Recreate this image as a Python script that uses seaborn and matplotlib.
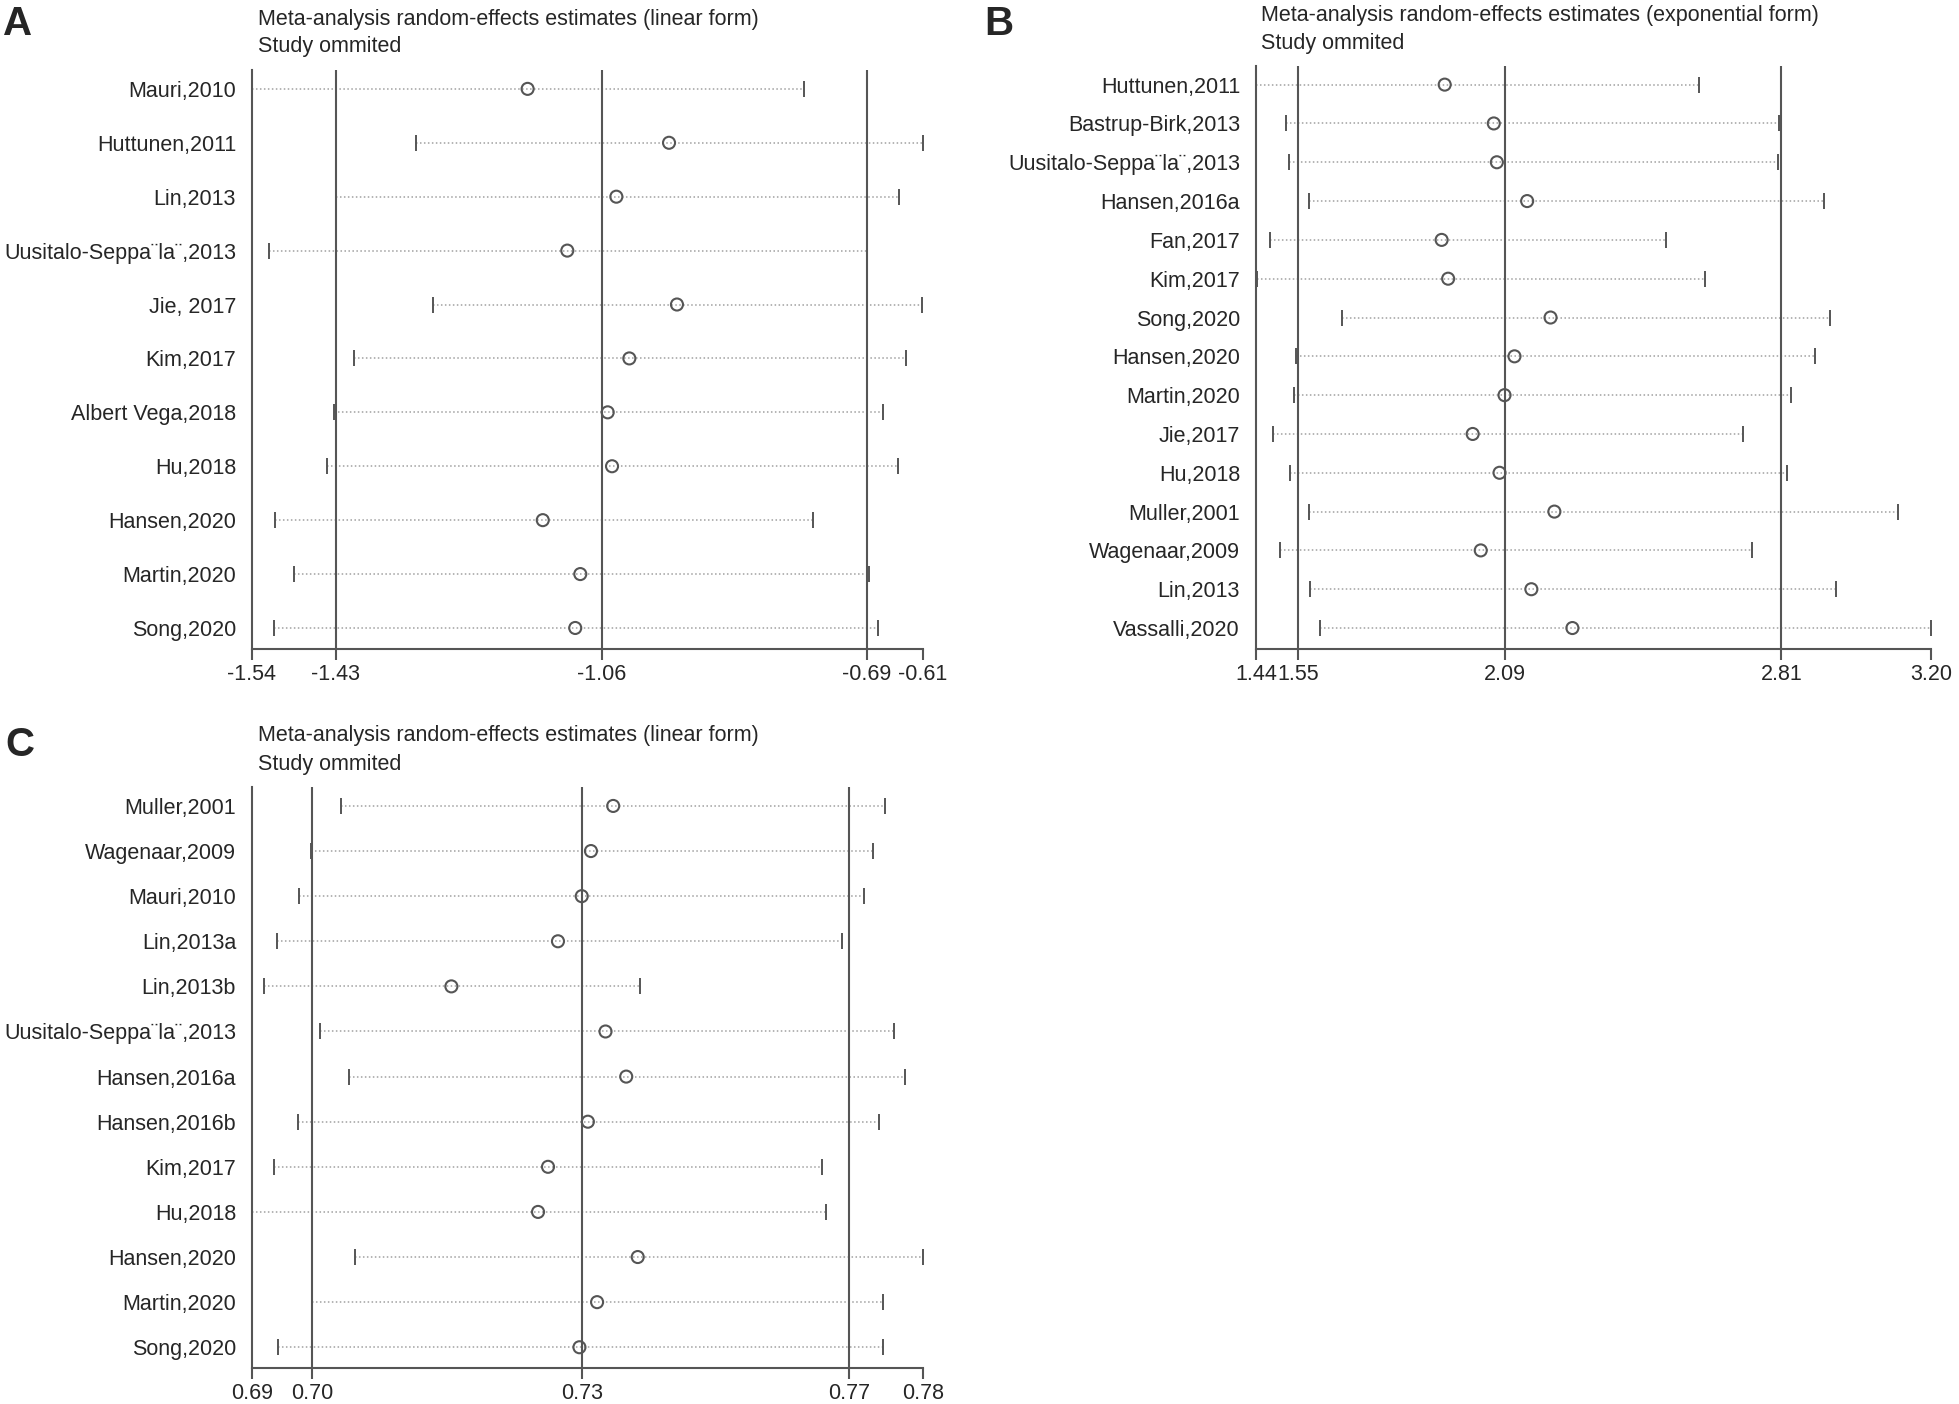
import pandas as pd
import matplotlib.pyplot as plt
import seaborn as sns

# Panel A - linear form
a_studies = ['Mauri,2010', 'Huttunen,2011', 'Lin,2013', 'Uusitalo-Seppa¨la¨,2013', 'Jie, 2017',
             'Kim,2017', 'Albert Vega,2018', 'Hu,2018', 'Hansen,2020', 'Martin,2020', 'Song,2020']
a_est = [-1.158, -0.962, -1.035, -1.103, -0.951, -1.017, -1.047, -1.041, -1.137, -1.085, -1.092]
a_low = [-1.54, -1.313, -1.423, -1.517, -1.289, -1.398, -1.427, -1.436, -1.508, -1.482, -1.509]
a_high = [-0.775, -0.61, -0.643, -0.688, -0.612, -0.634, -0.665, -0.645, -0.763, -0.685, -0.673]
a_lines = [-1.424, -1.055, -0.688]
a_ticks = [-1.54, -1.424, -1.055, -0.688, -0.61]
a_labels = ['-1.54', '-1.43', '-1.06', '-0.69', '-0.61']

# Panel B - exponential form
b_studies = ['Huttunen,2011', 'Bastrup-Birk,2013', 'Uusitalo-Seppa¨la¨,2013', 'Hansen,2016a', 'Fan,2017',
             'Kim,2017', 'Song,2020', 'Hansen,2020', 'Martin,2020', 'Jie,2017', 'Hu,2018',
             'Muller,2001', 'Wagenaar,2009', 'Lin,2013', 'Vassalli,2020']
b_est = [1.932, 2.060, 2.068, 2.147, 1.924, 1.941, 2.208, 2.114, 2.088, 2.005, 2.075, 2.218, 2.026, 2.158, 2.265]
b_low = [1.44, 1.518, 1.525, 1.577, 1.477, 1.443, 1.665, 1.544, 1.539, 1.484, 1.528, 1.578, 1.503, 1.582, 1.606]
b_high = [2.596, 2.803, 2.800, 2.920, 2.510, 2.611, 2.936, 2.897, 2.834, 2.710, 2.825, 3.115, 2.734, 2.951, 3.20]
b_lines = [1.55, 2.09, 2.81]
b_ticks = [1.44, 1.55, 2.09, 2.81, 3.20]
b_labels = ['1.44', '1.55', '2.09', '2.81', '3.20']

# Panel C - linear form
c_studies = ['Muller,2001', 'Wagenaar,2009', 'Mauri,2010', 'Lin,2013a', 'Lin,2013b', 'Uusitalo-Seppa¨la¨,2013',
             'Hansen,2016a', 'Hansen,2016b', 'Kim,2017', 'Hu,2018', 'Hansen,2020', 'Martin,2020', 'Song,2020']
c_est = [0.7391, 0.7362, 0.7350, 0.7319, 0.7180, 0.7381, 0.7408, 0.7358, 0.7306, 0.7293, 0.7423, 0.7370, 0.7347]
c_low = [0.7036, 0.6997, 0.6981, 0.6953, 0.6935, 0.7009, 0.7047, 0.6980, 0.6949, 0.692, 0.7054, 0.6998, 0.6954]
c_high = [0.7746, 0.7730, 0.7718, 0.7689, 0.7426, 0.7757, 0.7771, 0.7738, 0.7663, 0.7668, 0.7795, 0.7743, 0.7743]
c_lines = [0.6998, 0.7350, 0.7699]
c_ticks = [0.692, 0.6998, 0.7350, 0.7699, 0.7795]
c_labels = ['0.69', '0.70', '0.73', '0.77', '0.78']

sns.set_style('white')
plt.rcParams['font.family'] = ['Liberation Sans', 'DejaVu Sans']

W, H = 1959, 1404
fig = plt.figure(figsize=(W / 100, H / 100), dpi=100)
line_col = '#555555'


def draw_panel(rect, studies, est, low, high, lines, ticks, labels, pad_top, pad_bot):
    ax = fig.add_axes(rect)
    n = len(studies)
    df = pd.DataFrame({'study': studies, 'est': est, 'low': low, 'high': high, 'row': range(n)})
    ax.hlines(df['row'], df['low'], df['high'], colors='#a0a0a0', linestyles=(0, (1, 1.6)), lw=1.1, zorder=1)
    ax.plot(df['low'], df['row'], ls='none', marker='|', ms=12, mew=1.4, color=line_col, zorder=2)
    ax.plot(df['high'], df['row'], ls='none', marker='|', ms=12, mew=1.4, color=line_col, zorder=2)
    for v in lines:
        ax.axvline(v, color=line_col, lw=1.5, zorder=3)
    sns.scatterplot(data=df, x='est', y='row', ax=ax, s=75, facecolors='none',
                    edgecolor=line_col, linewidth=1.5, zorder=4, legend=False)
    ax.set_xlim(ticks[0], ticks[-1])
    ax.set_ylim(n - 1 + pad_bot, -pad_top)
    ax.set_yticks(range(n))
    ax.set_yticklabels(studies, fontsize=15.5)
    ax.set_xticks(ticks)
    ax.set_xticklabels(labels, fontsize=15.5)
    ax.tick_params(axis='y', length=0, pad=11.5)
    ax.tick_params(axis='x', length=8, width=1.5, color=line_col, pad=3, direction='out', bottom=True)
    ax.set_xlabel('')
    ax.set_ylabel('')
    for s in ['top', 'right']:
        ax.spines[s].set_visible(False)
    for s in ['left', 'bottom']:
        ax.spines[s].set_color(line_col)
        ax.spines[s].set_linewidth(1.5)
    return ax


def px_rect(x0, x1, y0, y1):
    return [x0 / W, 1 - y1 / H, (x1 - x0) / W, (y1 - y0) / H]


draw_panel(px_rect(252, 923, 70, 649), a_studies, a_est, a_low, a_high, a_lines, a_ticks, a_labels, 0.35, 0.39)
draw_panel(px_rect(1256, 1931, 66, 649), b_studies, b_est, b_low, b_high, b_lines, b_ticks, b_labels, 0.48, 0.54)
draw_panel(px_rect(252, 923, 787, 1368), c_studies, c_est, c_low, c_high, c_lines, c_ticks, c_labels, 0.42, 0.46)


# titles
def head(x, y1, y2, txt):
    fig.text(x / W, 1 - y1 / H, txt, fontsize=15.5, va='baseline', ha='left')
    fig.text(x / W, 1 - y2 / H, 'Study ommited', fontsize=15.5, va='baseline', ha='left')


head(258, 24.5, 52, 'Meta-analysis random-effects estimates (linear form)')
head(1261, 21, 48.5, 'Meta-analysis random-effects estimates (exponential form)')
head(258, 741, 769.5, 'Meta-analysis random-effects estimates (linear form)')

for letter, x, y in [('A', 3, 35), ('B', 984, 35), ('C', 5, 756)]:
    fig.text(x / W, 1 - y / H, letter, fontsize=29, fontweight='bold', va='baseline', ha='left')

plt.savefig('out.png', dpi=100)
